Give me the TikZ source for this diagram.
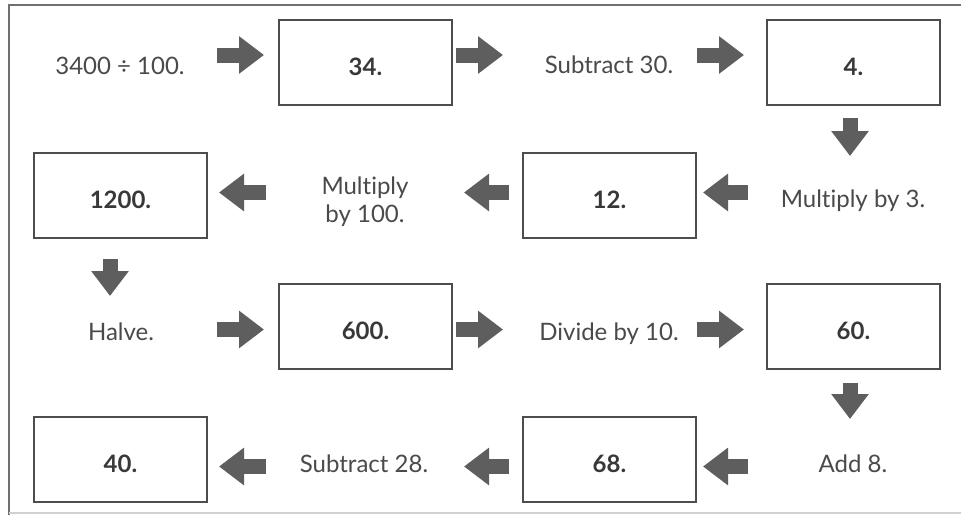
\documentclass[tikz,border=0pt]{standalone}
\usepackage{fontspec}
\setmainfont[Ligatures={NoCommon}]{Lato}
\usetikzlibrary{arrows.meta}
\definecolor{txt}{HTML}{4A4A4A}
\definecolor{boxline}{HTML}{4D4D4D}
\definecolor{arr}{HTML}{5E5E5E}
\definecolor{frame}{HTML}{707070}
\tikzset{
  valbox/.style={draw=boxline, line width=2pt, minimum width=173pt, minimum height=85pt, inner sep=0pt, text height=25pt, text depth=0pt, font=\fontsize{24}{28}\selectfont\bfseries, text=txt!75!black},
  optext/.style={font=\fontsize{24}{28}\selectfont, text=txt, align=center, inner sep=0pt, anchor=base},
  blk/.style={arr, line width=15pt, -{Triangle[width=36pt,length=25pt]}}
}
\begin{document}
\begin{tikzpicture}[x=1pt,y=-1pt]
\useasboundingbox (0,0) rectangle (961,515);
\fill[white] (0,0) rectangle (961,515);
% frame
\draw[frame, line width=2pt] (961,5) -- (9,5) -- (9,515);
\draw[black!18, line width=1.5pt] (9,513) -- (961,513);
% nodes
\node[optext] (t1) at (120,74) {3400 ÷ 100.};
\node[valbox] (b34) at (365.5,62.5) {34.};
\node[optext] (t2) at (609,73) {Subtract 30.};
\node[valbox] (b4) at (853.5,62.5) {4.};
\node[optext] (t3) at (853,207) {Multiply by 3.};
\node[valbox] (b12) at (609.5,195.5) {12.};
\node[optext] (t4) at (365,222) {Multiply\\by 100.};
\node[valbox] (b1200) at (120.5,195.5) {1200.};
\node[optext] (t5) at (121,340) {Halve.};
\node[valbox] (b600) at (365.5,326.5) {600.};
\node[optext] (t6) at (609,340) {Divide by 10.};
\node[valbox] (b60) at (853.5,326.5) {60.};
\node[optext] (t7) at (853,472) {Add 8.};
\node[valbox] (b68) at (609.5,459.5) {68.};
\node[optext] (t8) at (364,472) {Subtract 28.};
\node[valbox] (b40) at (120.5,459.5) {40.};
% arrows
\draw[blk] ([shift={(-61,-7.5)}]b34.west) -- ([shift={(-14,-7.5)}]b34.west);
\draw[blk] ([shift={(3,-7.5)}]b34.east) -- ([shift={(50,-7.5)}]b34.east);
\draw[blk] ([shift={(-69,-7.5)}]b4.west) -- ([shift={(-22,-7.5)}]b4.west);
\draw[blk] ([shift={(-3.5,12)}]b4.south) -- ([shift={(-3.5,50)}]b4.south);
\draw[blk] ([shift={(51,-3)}]b12.east) -- ([shift={(6,-3)}]b12.east);
\draw[blk] ([shift={(-13,-3)}]b12.west) -- ([shift={(-58,-3)}]b12.west);
\draw[blk] ([shift={(58,-3)}]b1200.east) -- ([shift={(11,-3)}]b1200.east);
\draw[blk] ([shift={(-10.5,20)}]b1200.south) -- ([shift={(-10.5,57)}]b1200.south);
\draw[blk] ([shift={(-61,3)}]b600.west) -- ([shift={(-14,3)}]b600.west);
\draw[blk] ([shift={(3,3)}]b600.east) -- ([shift={(50,3)}]b600.east);
\draw[blk] ([shift={(-69,3)}]b60.west) -- ([shift={(-22,3)}]b60.west);
\draw[blk] ([shift={(-3.5,13)}]b60.south) -- ([shift={(-3.5,49)}]b60.south);
\draw[blk] ([shift={(51,7)}]b68.east) -- ([shift={(6,7)}]b68.east);
\draw[blk] ([shift={(-13,7)}]b68.west) -- ([shift={(-58,7)}]b68.west);
\draw[blk] ([shift={(58,7)}]b40.east) -- ([shift={(11,7)}]b40.east);
\end{tikzpicture}
\end{document}
